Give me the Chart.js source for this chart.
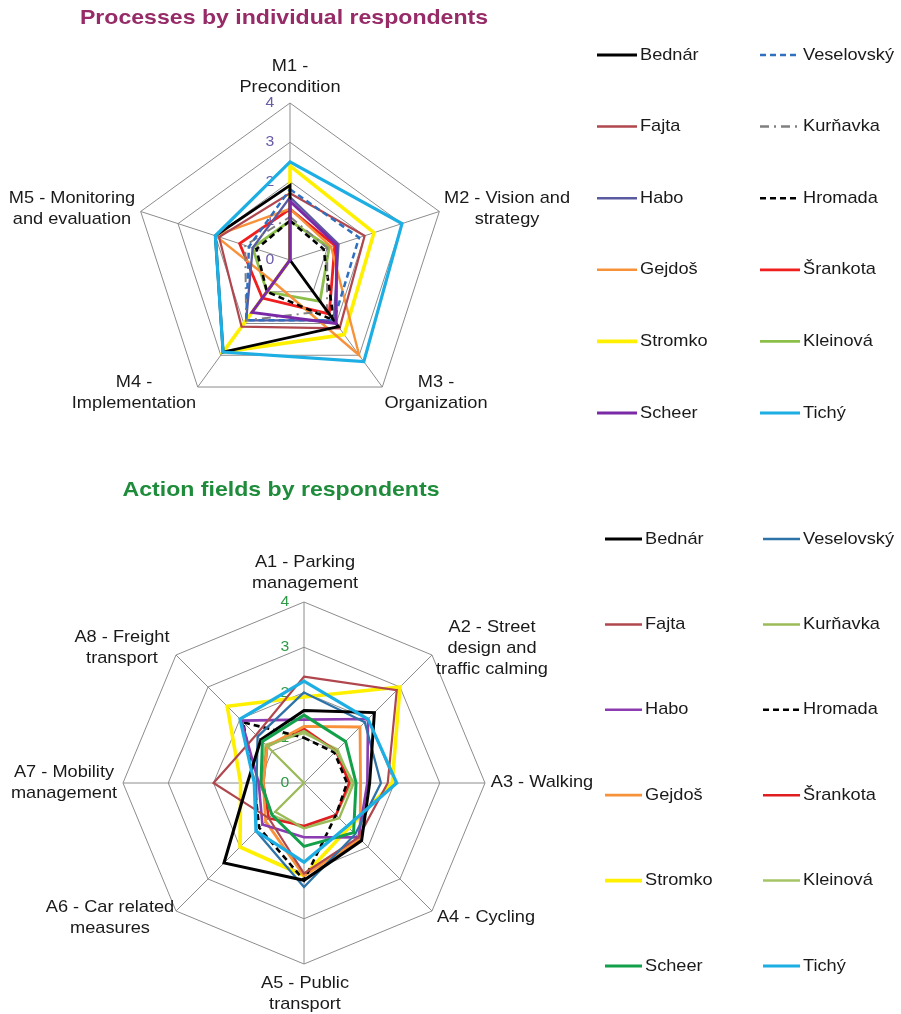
<!DOCTYPE html>
<html><head><meta charset="utf-8">
<script src="https://cdn.jsdelivr.net/npm/chart.js@4.4.1/dist/chart.umd.min.js"></script>
<style>
html,body{margin:0;padding:0;background:#fff;width:901px;height:1014px;overflow:hidden}
canvas{position:absolute;left:0}
#c1{top:0}
#c2{top:470px}
</style></head><body>
<canvas id="c1" width="901" height="470"></canvas>
<canvas id="c2" width="901" height="544"></canvas>
<script>
// ---------------- DATA ----------------
const respondents = ['Bednár','Veselovský','Fajta','Kurňavka','Habo','Hromada','Gejdoš','Šrankota','Stromko','Kleinová','Scheer','Tichý'];

const processTitle = 'Processes by individual respondents';
const processLabels = [['M1 -','Precondition'],['M2 - Vision and','strategy'],['M3 -','Organization'],['M4 -','Implementation'],['M5 - Monitoring','and evaluation']];
const processTicks = [0,1,2,3,4];

// M1..M5
const pBednar     = [1.9, 0,    2.1,  2.9, 2.0];
const pVeselovsky = [1.8, 1.85, 1.9,  1.9, 1.1];
const pFajta      = [1.7, 2.0,  2.15, 2.1, 1.9];
const pKurnavka   = [1.1, 1.0,  1.6,  1.9, 1.2];
const pHabo       = [1.6, 1.3,  1.9,  1.9, 1.0];
const pHromada    = [1.0, 0.9,  1.9,  1.0, 0.9];
const pGejdos     = [1.3, 1.1,  3.0,  0.7, 2.0];
const pSrankota   = [1.3, 1.2,  1.7,  1.2, 1.35];
const pStromko    = [2.4, 2.25, 2.35, 2.9, 0];
const pKleinova   = [1.0, 1.05, 1.3,  1.0, 1.0];
const pScheer     = [1.5, 1.25, 2.0,  1.65, 0];
const pTichy      = [2.5, 3.0,  3.2,  2.9, 2.0];

const actionTitle = 'Action fields by respondents';
const actionLabels = [['A1 - Parking','management'],['A2 - Street','design and','traffic calming'],['A3 - Walking'],['A4 - Cycling'],['A5 - Public','transport'],['A6 - Car related','measures'],['A7 - Mobility','management'],['A8 - Freight','transport']];
const actionTicks = [0,1,2,3,4];

// A1..A8
const aBednar     = [1.6,  2.2,  1.45, 1.8,  2.15, 2.5, 1.25, 1.35];
const aVeselovsky = [2.0,  1.9,  1.7,  1.6,  2.3,  1.5, 1.05, 1.45];
const aFajta      = [2.35, 2.9,  1.85, 1.7,  2.0,  1.1, 2.0,  1.5];
const aKurnavka   = [1.15, 1.0,  1.1,  1.1,  1.0,  0.9, 0,    1.15];
const aHabo       = [1.4,  2.0,  1.4,  1.7,  1.2,  1.3, 1.0,  1.95];
const aHromada    = [1.0,  0.95, 0.95, 1.0,  2.15, 1.4, 1.1,  1.9];
const aGejdos     = [1.25, 1.75, 1.25, 1.75, 2.05, 1.2, 0.9,  1.15];
const aSrankota   = [1.2,  1.0,  1.0,  1.0,  0.95, 1.1, 0.9,  1.15];
const aStromko    = [1.9,  3.0,  1.95, 1.4,  2.05, 2.0, 1.4,  2.4];
const aKleinova   = [1.1,  1.05, 1.05, 1.0,  1.0,  1.0, 0.95, 1.2];
const aScheer     = [1.5,  1.3,  1.15, 1.55, 1.4,  1.0, 0.95, 1.3];
const aTichy      = [2.25, 2.0,  2.05, 1.35, 1.75, 1.5, 1.1,  2.0];

const processValues = [pBednar,pVeselovsky,pFajta,pKurnavka,pHabo,pHromada,pGejdos,pSrankota,pStromko,pKleinova,pScheer,pTichy];
const actionValues  = [aBednar,aVeselovsky,aFajta,aKurnavka,aHabo,aHromada,aGejdos,aSrankota,aStromko,aKleinova,aScheer,aTichy];

// ---------------- STYLES ----------------
const FONT = '"Liberation Sans", Arial, sans-serif';
const topColors = ['#000000','#2F6FBF','#B0474E','#808080','#5A5AA0','#000000','#F7923A','#F01E1E','#FFF000','#8CBF4A','#7A2AA6','#1DAEE3'];
const topWidths = [2.8,2.5,2.2,2,2.3,2.6,2.4,2.8,3.6,2.8,3,3.2];
const topDashes = [[],[6,4],[],[9,5,2,5],[],[6,4],[],[],[],[],[],[]];
const botColors = ['#000000','#2E73A8','#B0474E','#9BBB59','#8A3CB0','#000000','#F7923A','#E01E22','#FFF000','#A5C565','#12A04A','#1DAEE3'];
const botWidths = [3,2.3,2.2,2.3,2.6,2.6,2.8,2.6,3.6,2.3,3,3.2];
const botDashes = [[],[],[],[],[],[6,4],[],[],[],[],[],[]];
const drawOrder = [2,2,2,2,2,2,2,2,2,2,1,0];

function txt(ctx, s, x, y, font, color, align, sx) {
  ctx.save();
  ctx.font = font; ctx.fillStyle = color;
  ctx.textBaseline = 'middle'; ctx.textAlign = align || 'center';
  ctx.translate(x, y); ctx.scale(sx || 1, 1);
  ctx.fillText(s, 0, 0);
  ctx.restore();
}

const decor = {
  id: 'decor',
  beforeDatasetsDraw(chart, args, o) {
    const ctx = chart.ctx, s = chart.scales.r;
    s.ticks.forEach(t => {
      const d = s.getDistanceFromCenterForValue(t.value);
      txt(ctx, String(t.value), s.xCenter + o.tickDx, s.yCenter - d, '15px ' + FONT, o.tickColor, 'center', 1.05);
    });
    chart.data.labels.forEach((lines, i) => {
      const p = o.labelPos[i];
      lines.forEach((ln, j) => txt(ctx, ln, s.xCenter + p[0], s.yCenter + p[1] + j * o.lineH, '17px ' + FONT, '#1a1a1a', 'center', 1.07));
    });
  },
  afterDraw(chart, args, o) {
    const ctx = chart.ctx;
    txt(ctx, o.title, o.titleX, o.titleY, 'bold 21px ' + FONT, o.titleColor, 'center', 1.1);
    chart.data.datasets.forEach((ds, i) => {
      const row = Math.floor(i / 2), col = i % 2;
      const x = o.legX[col], y = o.legY0 + row * o.legDy;
      ctx.save();
      ctx.strokeStyle = ds.borderColor; ctx.lineWidth = Math.max(2.5, ds.borderWidth);
      ctx.setLineDash(ds.borderDash || []);
      ctx.beginPath(); ctx.moveTo(x, y); ctx.lineTo(x + o.legLen, y); ctx.stroke();
      ctx.restore();
      txt(ctx, ds.label, x + o.legLen + 3, y, '17px ' + FONT, '#1a1a1a', 'left', 1.07);
    });
  }
};

function makeChart(id, labels, values, ticks, colors, widths, dashes, geo, deco) {
  return new Chart(document.getElementById(id), {
    type: 'radar',
    data: {
      labels: labels,
      datasets: respondents.map((name, i) => ({
        label: name, data: values[i],
        borderColor: colors[i], backgroundColor: colors[i],
        borderWidth: widths[i], borderDash: dashes[i],
        fill: false, pointRadius: 0, tension: 0, order: drawOrder[i]
      }))
    },
    options: {
      responsive: false, animation: false, events: [],
      plugins: { legend: { display: false }, title: { display: false }, tooltip: { enabled: false }, decor: deco },
      scales: {
        r: {
          min: 0, max: 4,
          afterBuildTicks: sc => { sc.ticks = ticks.map(v => ({ value: v })); },
          afterFit: sc => { sc.xCenter = geo.cx; sc.yCenter = geo.cy; sc.drawingArea = geo.r; },
          ticks: { display: false, stepSize: 1 },
          grid: { color: '#8c8c8c', lineWidth: 1 },
          angleLines: { color: '#8c8c8c', lineWidth: 1 },
          pointLabels: { display: false }
        }
      }
    },
    plugins: [decor]
  });
}

makeChart('c1', processLabels, processValues, processTicks, topColors, topWidths, topDashes,
  { cx: 290, cy: 260, r: 157 },
  { tickDx: -20, tickColor: '#6A5AA8', lineH: 21,
    labelPos: [[0,-194],[217,-62],[146,122],[-156,122],[-218,-62]],
    title: processTitle, titleX: 284, titleY: 18, titleColor: '#962B68',
    legX: [597, 760], legY0: 55, legDy: 71.6, legLen: 40 });

makeChart('c2', actionLabels, actionValues, actionTicks, botColors, botWidths, botDashes,
  { cx: 304, cy: 313, r: 181 },
  { tickDx: -19, tickColor: '#2E9A48', lineH: 21,
    labelPos: [[1,-221],[188,-156],[238,-1],[182,134],[1,200],[-194,124],[-240,-11],[-182,-146]],
    title: actionTitle, titleX: 281, titleY: 20, titleColor: '#1E8C3A',
    legX: [605, 763], legY0: 69, legDy: 85.4, legLen: 37 });
</script>
</body></html>
